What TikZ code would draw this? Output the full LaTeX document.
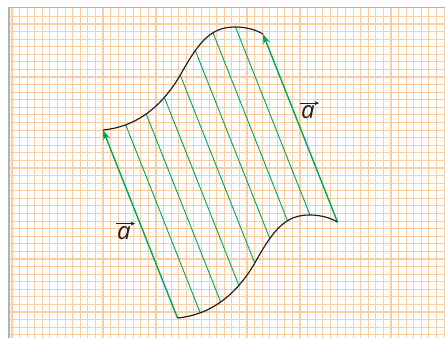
\documentclass[tikz,border=0pt]{standalone}
\usepackage{fontspec}
\newfontfamily\labfont{Open Sans}
\usetikzlibrary{arrows.meta,calc,intersections}
\definecolor{gridor}{RGB}{250,205,162}
\definecolor{vgreen}{RGB}{0,166,81}
\definecolor{frameg}{RGB}{178,178,178}
\definecolor{curvek}{RGB}{35,31,32}
\tikzset{
  gridline/.style={draw=gridor, line width=1.1pt},
  framel/.style={draw=frameg, line width=1.6pt},
  curvel/.style={draw=curvek, line width=1.2pt},
  transl/.style={draw=vgreen, line width=0.9pt},
  vecl/.style={draw=vgreen, line width=1.4pt, -{Stealth[length=10pt,width=7pt]}},
  lab/.style={inner sep=0pt, font=\labfont\itshape\fontsize{24}{24}\selectfont, text=curvek},
  labarrow/.style={draw=curvek, line width=0.8pt, -{Stealth[length=4.5pt,width=4pt]}}
}
\begin{document}
\begin{tikzpicture}[x=1pt,y=-1pt]
\useasboundingbox (0,0) rectangle (445,338);
% grid paper
\foreach \i in {0,...,57} \draw[gridline] ({12+7.58*\i},7.5) -- ({12+7.58*\i},338);
\foreach \j in {0,...,42} \draw[gridline] (9,{16.4+7.58*\j}) -- (445,{16.4+7.58*\j});
\draw[framel] (9,338) -- (9,7.5) -- (445,7.5);
% end points
\coordinate (A) at (103,130);
\coordinate (B) at (263,34);
\coordinate (C) at (177.5,318);
\coordinate (D) at (337.5,222);
% upper curve (named)
\path[name path=upper] (A) .. controls (135,127) and (162,108) .. (182,72)
   .. controls (200,40) and (212,27) .. (235,27)
   .. controls (247,27) and (256,30) .. (B);
% translation lines, evenly spaced
\foreach \k in {1,...,7} {
  \path[name path=guide] ($(A)!\k/8!(B)+(-74.5,-188)$) -- ($(A)!\k/8!(B)+(74.5,188)$);
  \path[name intersections={of=upper and guide, by=P}];
  \draw[transl] (P) -- ++(74.5,188);
}
\draw[vecl] (C) -- (A);
\draw[vecl] (D) -- (B);
% curves
\draw[curvel] (A) .. controls (135,127) and (162,108) .. (182,72)
   .. controls (200,40) and (212,27) .. (235,27)
   .. controls (247,27) and (256,30) .. (B);
\draw[curvel] (C) .. controls (209.5,315) and (236.5,296) .. (256.5,260)
   .. controls (274.5,228) and (286.5,215) .. (309.5,215)
   .. controls (321.5,215) and (330.5,218) .. (D);
% labels
\node[lab] (la1) at (124,233.5) {a};
\draw[labarrow] (la1.north west) ++(-1,-3) -- ++(19,0);
\node[lab] (la2) at (308,112.5) {a};
\draw[labarrow] (la2.north west) ++(-1,-2.5) -- ++(19,0);
\end{tikzpicture}
\end{document}
